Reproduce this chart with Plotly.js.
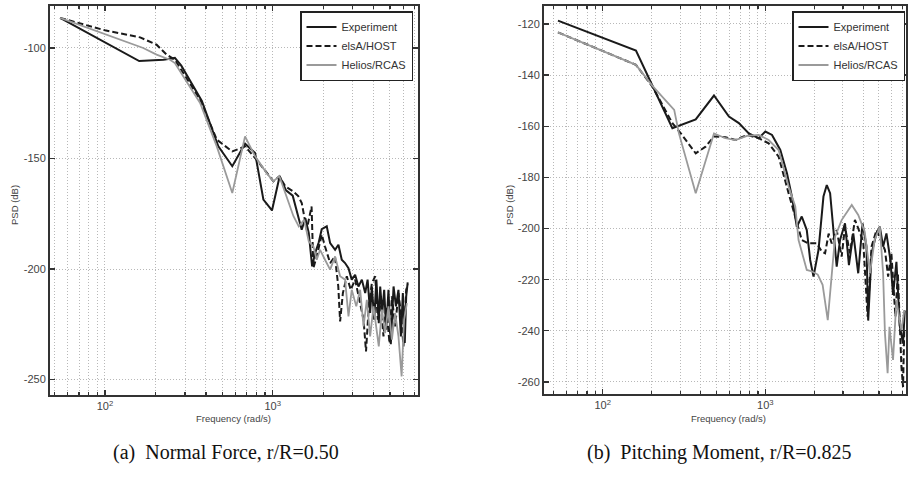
<!DOCTYPE html>
<html>
<head>
<meta charset="utf-8">
<script src="https://cdn.plot.ly/plotly-3.0.1.min.js"></script>
<style>
html,body{margin:0;padding:0;background:#fff;}
#chart{width:908px;height:486px;}
</style>
</head>
<body>
<div id="chart"></div>
<script>
// ---------- Data ----------
const seriesNames = ["Experiment", "elsA/HOST", "Helios/RCAS"];
const captions = ["(a)  Normal Force, r/R=0.50", "(b)  Pitching Moment, r/R=0.825"];
const xAxisLabel = "Frequency (rad/s)";
const yAxisLabel = "PSD (dB)";

// Panel (a): Normal Force
const fA_exp = [54,160,223,261,285,378,474,574,684,785,880,990,1100,1200,1316,1408,1489,1565,1640,1718,1790,1880,1960,2100,2200,2355,2465,2580,2700,2830,2960,3100,3245,3400,3560,3680,3810,3900,4030,4150,4290,4374,4500,4620,4750,4900,5060,5254,5430,5620,5810,5970,6130,6250,6380];
const pA_exp = [-86.4,-105.9,-105.3,-104.5,-108,-124,-144.5,-153.5,-143.3,-147.5,-168.6,-173.5,-158,-164.4,-166.8,-174.6,-182.2,-177,-183.7,-198.8,-192.8,-188,-182,-180.7,-188.3,-191.3,-189,-195.8,-197.3,-199.6,-204.8,-202.6,-207.9,-204.8,-210.9,-204.8,-219.9,-207.9,-222.9,-204.8,-224.5,-207.9,-219.9,-209.4,-227.5,-209.4,-234,-207.9,-216.9,-209.4,-230.5,-210.9,-233.5,-212.4,-206];

const fA_els = [54,100,162,203,233,261,369,464,574,684,800,920,1010,1096,1188,1328,1420,1490,1595,1705,1748,1830,1960,2050,2200,2350,2460,2523,2620,2765,2920,3100,3322,3480,3600,3740,3900,4085,4230,4374,4575,4750,4970,5135,5370,5620,5810,6020,6250,6400];
const pA_els = [-86.4,-92,-95.2,-98.5,-103,-105.3,-123.4,-141.5,-146.8,-144.5,-150.5,-156.6,-160.3,-158,-162.6,-164.9,-167,-170.2,-182.2,-171.7,-199.6,-194.3,-184.5,-189.8,-197.3,-194.3,-207.9,-223.7,-210.9,-203.3,-209.4,-204.8,-215.4,-222.9,-237.3,-216.9,-206.4,-203.3,-222.9,-212.4,-230.5,-216.9,-233.5,-212.4,-226,-210.9,-219.9,-235,-209.4,-207];

const fA_hel = [54,169,203,244,261,369,464,574,684,785,920,1010,1096,1210,1328,1430,1540,1640,1748,1830,1916,2050,2200,2355,2523,2700,2830,2960,3150,3322,3480,3640,3810,3990,4290,4480,4680,4900,5135,5370,5620,5870,6070,6312];
const pA_hel = [-86.4,-100,-103,-105.3,-106.8,-124.9,-144.5,-165.6,-140,-149,-156.6,-160.3,-158,-167,-176,-180.7,-177.7,-187.5,-189.8,-195.8,-191.3,-195.8,-200.3,-194.3,-203.3,-204.8,-221.4,-209.4,-216.9,-209.4,-226,-213.9,-230.5,-216.9,-235,-218.4,-229,-216.9,-232,-219.9,-230.5,-248.6,-223,-215.4];

// Panel (b): Pitching Moment
const fB_exp = [53,160,268,373,483,597,687,791,910,1000,1099,1236,1358,1456,1562,1675,1798,1887,1978,2123,2277,2387,2502,2620,2747,2880,3090,3267,3474,3726,3962,4190,4290,4500,4827,5060,5300,5555,5876,6100,6400,6710,7030,7200];
const pB_exp = [-118.7,-130.4,-160.8,-157.3,-148,-156.2,-158.8,-162.8,-164.7,-162.1,-163.4,-169.3,-178.4,-187.5,-199.3,-195.3,-200.6,-212.3,-218.8,-208.4,-187.5,-183,-186.2,-201.9,-214.9,-204.5,-198,-214.3,-201.9,-217.5,-198,-207.1,-236,-209.7,-201.9,-199.3,-207.1,-201.9,-212.3,-226,-213,-238,-245,-232];

const fB_els = [53,160,202,268,302,373,429,483,569,655,772,910,1048,1207,1390,1528,1675,1841,2072,2223,2330,2450,2560,2747,2946,3090,3310,3556,3817,4000,4256,4500,4827,5130,5440,5690,5960,6310,6530,6870,7030,7150];
const pB_els = [-123.3,-136,-144.5,-158.8,-162.8,-170.6,-168,-164,-164.3,-165.4,-163.4,-164.7,-166.7,-171.9,-186.2,-195.3,-204.5,-205.8,-205.8,-209,-209.7,-202,-205.8,-200.6,-211,-199.3,-209.7,-196.6,-201.9,-205,-234.5,-207.1,-200.6,-204.5,-208.4,-218.8,-209.7,-234.4,-217.5,-254,-262,-240];

const fB_hel = [53,160,202,275,294,373,483,569,655,772,910,1048,1207,1390,1528,1600,1798,1940,2100,2250,2420,2685,2946,3400,3726,4083,4400,4700,5060,5300,5440,5650,5800,6100,6400,6870,7150];
const pB_hel = [-123.3,-136,-144.2,-153.6,-162.8,-186.2,-162.8,-164.7,-165.4,-163.8,-163.4,-165.4,-169.3,-183.6,-191.4,-204.5,-216.2,-216.8,-218,-222,-235.8,-203.2,-196.7,-190.8,-194.7,-201.2,-217.5,-204.5,-199.3,-217.5,-241,-256.6,-238.4,-251.4,-228,-240,-232];

// Axis ticks
const xMajorTicks = [100, 1000];
const xMajorText = ["10<sup>2</sup>", "10<sup>3</sup>"];
const xMinorTicks = [50,60,70,80,90,200,300,400,500,600,700,800,900,2000,3000,4000,5000,6000,7000];
const yTicksA = [-250, -200, -150, -100];
const yTicksB = [-260, -240, -220, -200, -180, -160, -140, -120];

// ---------- Styling ----------
const W = 908, H = 486;
const styles = [
  {color: "#1a1a1a", width: 2, dash: "solid"},
  {color: "#1a1a1a", width: 2, dash: "6px,3px"},
  {color: "#9a9a9a", width: 1.8, dash: "solid"}
];
const tickFont = {family: "Liberation Sans, Arial, sans-serif", size: 11, color: "#444"};
const gridColor = "#b8b8b8";
const gridDash = "1px,2px";

function mkTrace(name, x, y, i, xa, ya, legend) {
  return {
    type: "scatter", mode: "lines", name: name, x: x, y: y,
    xaxis: xa, yaxis: ya, legend: legend, showlegend: true,
    line: {color: styles[i].color, width: styles[i].width, dash: styles[i].dash}
  };
}

const traces = [
  mkTrace(seriesNames[0], fA_exp, pA_exp, 0, "x", "y", "legend"),
  mkTrace(seriesNames[1], fA_els, pA_els, 1, "x", "y", "legend"),
  mkTrace(seriesNames[2], fA_hel, pA_hel, 2, "x", "y", "legend"),
  mkTrace(seriesNames[0], fB_exp, pB_exp, 0, "x2", "y2", "legend2"),
  mkTrace(seriesNames[1], fB_els, pB_els, 1, "x2", "y2", "legend2"),
  mkTrace(seriesNames[2], fB_hel, pB_hel, 2, "x2", "y2", "legend2")
];

function xAxis(domain, range, anchor) {
  return {
    type: "log", domain: domain, range: range, anchor: anchor,
    tickmode: "array", tickvals: xMajorTicks, ticktext: xMajorText,
    ticks: "inside", ticklen: 5, tickwidth: 1.2, tickcolor: "#333",
    showline: true, linecolor: "#333", linewidth: 2, mirror: "ticks",
    showgrid: true, gridcolor: gridColor, gridwidth: 1, griddash: gridDash,
    zeroline: false, tickfont: tickFont,
    minor: {tickmode: "array", tickvals: xMinorTicks, ticks: "inside", ticklen: 3,
            tickcolor: "#333", showgrid: true, gridcolor: gridColor, gridwidth: 1, griddash: gridDash}
  };
}
function yAxis(domain, range, ticks, anchor) {
  return {
    domain: domain, range: range, anchor: anchor,
    tickmode: "array", tickvals: ticks, ticktext: ticks.map(String),
    ticks: "inside", ticklen: 5, tickwidth: 1.2, tickcolor: "#333",
    showline: true, linecolor: "#333", linewidth: 2, mirror: "ticks",
    showgrid: true, gridcolor: gridColor, gridwidth: 1, griddash: gridDash,
    zeroline: false, tickfont: tickFont
  };
}

const legendCommon = {
  xanchor: "right", yanchor: "top", bgcolor: "#fff",
  bordercolor: "#222", borderwidth: 1.5,
  font: {family: "Liberation Sans, Arial, sans-serif", size: 11, color: "#333"},
  tracegroupgap: 0, itemwidth: 30
};

const labelFont = {family: "Liberation Sans, Arial, sans-serif", size: 9.5, color: "#444"};
const capFont = {family: "Liberation Serif, Times New Roman, serif", size: 20, color: "#111"};

const layout = {
  width: W, height: H,
  margin: {l: 0, r: 0, t: 0, b: 0},
  paper_bgcolor: "#fff", plot_bgcolor: "#fff",
  showlegend: true,
  xaxis: xAxis([50/W, 418/W], [Math.log10(47), Math.log10(7350)], "y"),
  yaxis: yAxis([1 - 395/H, 1 - 6/H], [-257, -81], yTicksA, "x"),
  xaxis2: xAxis([544/W, 906/W], [Math.log10(43.5), Math.log10(7330)], "y2"),
  yaxis2: yAxis([1 - 394/H, 1 - 6/H], [-264.7, -113], yTicksB, "x2"),
  legend: Object.assign({x: 413/W, y: 1 - 11/H}, legendCommon),
  legend2: Object.assign({x: 905/W, y: 1 - 11/H}, legendCommon),
  annotations: [
    {xref: "paper", yref: "paper", x: 14/W, y: 1 - 205/H, text: yAxisLabel, textangle: -90,
     showarrow: false, font: labelFont, xanchor: "center", yanchor: "middle"},
    {xref: "paper", yref: "paper", x: 509/W, y: 1 - 205/H, text: yAxisLabel, textangle: -90,
     showarrow: false, font: labelFont, xanchor: "center", yanchor: "middle"},
    {xref: "paper", yref: "paper", x: 233/W, y: 1 - 418/H, text: xAxisLabel,
     showarrow: false, font: labelFont, xanchor: "center", yanchor: "middle"},
    {xref: "paper", yref: "paper", x: 728/W, y: 1 - 418/H, text: xAxisLabel,
     showarrow: false, font: labelFont, xanchor: "center", yanchor: "middle"},
    {xref: "paper", yref: "paper", x: 226/W, y: 1 - 452/H, text: captions[0],
     showarrow: false, font: capFont, xanchor: "center", yanchor: "middle"},
    {xref: "paper", yref: "paper", x: 719/W, y: 1 - 452/H, text: captions[1],
     showarrow: false, font: capFont, xanchor: "center", yanchor: "middle"}
  ]
};

Plotly.newPlot("chart", traces, layout, {staticPlot: true, displayModeBar: false});
</script>
</body>
</html>
